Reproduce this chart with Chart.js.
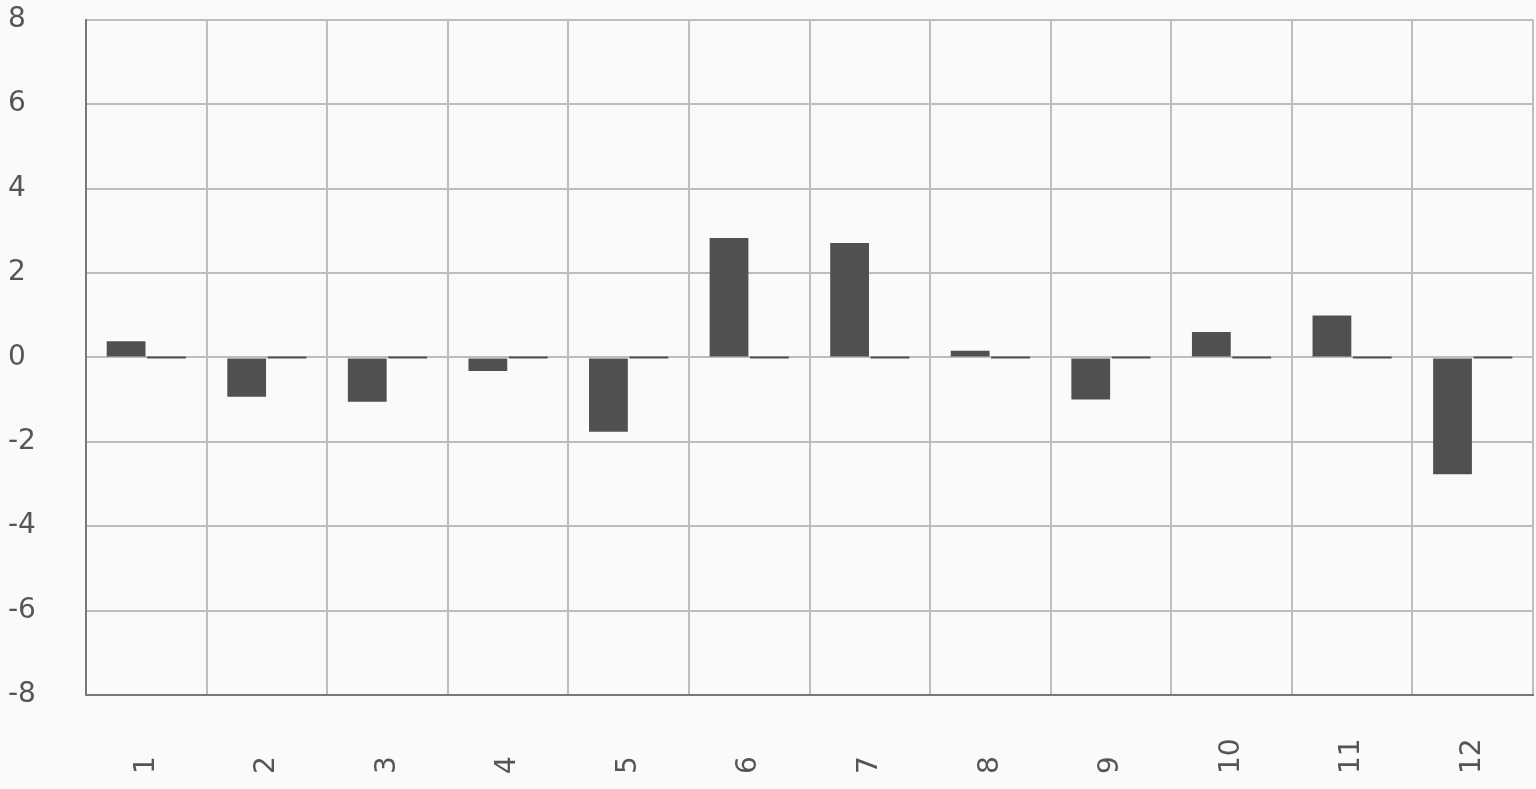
<!DOCTYPE html>
<html>
<head>
<meta charset="utf-8">
<script src="https://cdn.jsdelivr.net/npm/chart.js@4"></script>
<style>
  html, body { margin: 0; padding: 0; background: #fafafa; }
  #wrap { width: 1536px; height: 789px; }
</style>
</head>
<body>
<div id="wrap"><canvas id="chart"></canvas></div>
<script>
const categories = ['1', '2', '3', '4', '5', '6', '7', '8', '9', '10', '11', '12'];
const seriesA = [0.38, -0.93, -1.05, -0.32, -1.76, 2.83, 2.71, 0.16, -1.0, 0.6, 0.99, -2.77];
const seriesB = [0, 0, 0, 0, 0, 0, 0, 0, 0, 0, 0, 0];
const yTicks = [-8, -6, -4, -2, 0, 2, 4, 6, 8];

const fontFamily = '"DejaVu Sans", Lato, sans-serif';
const textColor = '#555';

// x labels drawn rotated, anchored at the bottom like in the reference
const xLabelPlugin = {
  id: 'xLabels',
  afterDraw(chart) {
    const ctx = chart.ctx;
    const xs = chart.scales.x;
    ctx.save();
    ctx.font = '28px ' + fontFamily;
    ctx.fillStyle = textColor;
    ctx.textAlign = 'left';
    ctx.textBaseline = 'middle';
    categories.forEach((lab, i) => {
      const x = xs.getPixelForTick(i);
      ctx.save();
      ctx.translate(x, 774);
      ctx.rotate(-Math.PI / 2);
      ctx.fillText(lab, 0, 0);
      ctx.restore();
    });
    ctx.restore();
  }
};

const ctx = document.getElementById('chart').getContext('2d');
const chart = new Chart(ctx, {
  type: 'bar',
  data: {
    labels: categories,
    datasets: [{
      label: 'A',
      data: seriesA,
      backgroundColor: '#505050',
      categoryPercentage: 0.67,
      barPercentage: 0.96
    }, {
      label: 'B',
      data: seriesB,
      backgroundColor: '#505050',
      minBarLength: 2,
      categoryPercentage: 0.67,
      barPercentage: 0.96
    }]
  },
  options: {
    responsive: true,
    maintainAspectRatio: false,
    animation: false,
    layout: { padding: { left: 8, right: 3, top: -2, bottom: 0 } },
    plugins: {
      legend: { display: false },
      tooltip: { enabled: false }
    },
    scales: {
      x: {
        grid: { color: '#bdbdbd', lineWidth: 2, drawTicks: false },
        border: { color: '#777', width: 2 },
        ticks: { display: false },
        afterFit(scale) { scale.height = 94; }
      },
      y: {
        min: -8,
        max: 8,
        afterBuildTicks(scale) { scale.ticks = yTicks.map(v => ({ value: v })); },
        grid: { color: '#bdbdbd', lineWidth: 2, drawTicks: false },
        border: { color: '#777', width: 2 },
        ticks: {
          crossAlign: 'far',
          color: textColor,
          font: { family: fontFamily, size: 28 }
        },
        afterFit(scale) { scale.width = 78; }
      }
    }
  },
  plugins: [xLabelPlugin]
});
</script>
</body>
</html>
